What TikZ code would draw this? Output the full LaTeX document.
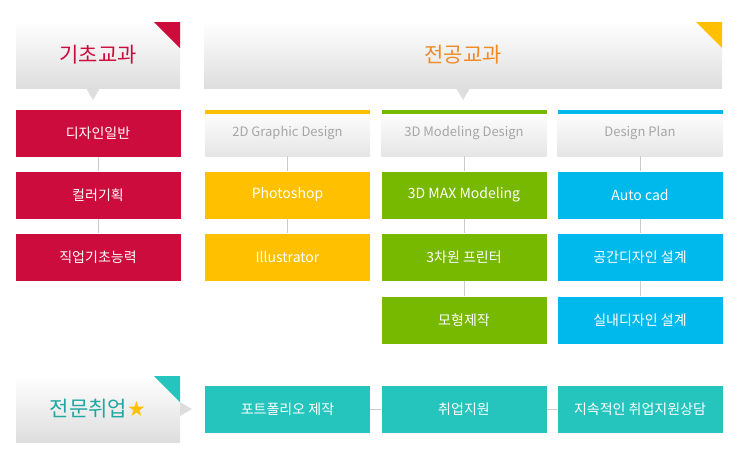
\documentclass[tikz,border=0pt]{standalone}
\usepackage{fontspec}
\setmainfont{Noto Sans CJK KR}
\newfontfamily\djv{DejaVu Sans}
\begin{document}
\begin{tikzpicture}[x=1pt,y=-1pt,
  hdr/.style={draw=none,top color=white,bottom color=black!12,font=\fontsize{21}{24}\selectfont},
  bx/.style={minimum width=165pt,minimum height=47pt,text=white,font=\fontsize{14}{16}\selectfont,inner sep=0},
  sub/.style={minimum width=165pt,minimum height=46pt,top color=white,bottom color=black!10,text=black!35,font=\fontsize{13}{15}\selectfont,inner sep=0},
  ln/.style={draw=black!20,line width=0.8pt}]
\definecolor{cred}{HTML}{CC0C3C}
\definecolor{cora}{HTML}{FFC000}
\definecolor{cgrn}{HTML}{77B800}
\definecolor{ccya}{HTML}{00B9EC}
\definecolor{ctea}{HTML}{25C4BC}
\definecolor{torg}{HTML}{F08A24}
\useasboundingbox (0,0) rectangle (750,464);
% headers
\shade[top color=white,bottom color=black!13] (16,22) rectangle (180,88);
\fill[black!13] (86,88) -- (93,100) -- (100,88) -- cycle;
\fill[cred] (154,22) -- (180,22) -- (180,48) -- cycle;
\node[text=cred,font=\fontsize{21}{24}\selectfont] (h1) at (98,55) {기초교과};
\shade[top color=white,bottom color=black!13] (204,22) rectangle (722,88);
\fill[black!13] (456,88) -- (463,100) -- (470,88) -- cycle;
\fill[cora] (696,22) -- (722,22) -- (722,48) -- cycle;
\node[text=torg,font=\fontsize{21}{24}\selectfont] (h2) at (463,55) {전공교과};
\shade[top color=white,bottom color=black!13] (16,376) rectangle (180,442);
\fill[black!13] (180,402) -- (192,409) -- (180,416) -- cycle;
\fill[ctea] (154,376) -- (180,376) -- (180,402) -- cycle;
\node[text=ctea!85!black,font=\fontsize{21}{24}\selectfont] (h3) at (98,409) {전문취업\textcolor{cora}{\djv ★}};
% left red column
\node[bx,fill=cred] (r1) at (98,133) {디자인일반};
\node[bx,fill=cred] (r2) at (98,195) {컬러기획};
\node[bx,fill=cred] (r3) at (98,257) {직업기초능력};
\draw[ln] (r1) -- (r2); \draw[ln] (r2) -- (r3);
% columns
\foreach \cx/\col/\nm/\t in {287.5/cora/a/2D Graphic Design,464/cgrn/b/3D Modeling Design,640/ccya/c/Design Plan / CAD}{
  \node[sub] (s\nm) at (\cx,133) {\t};
  \fill[\col] (\cx-82.5,110) rectangle (\cx+82.5,114);
}
\node[bx,fill=cora] (a1) at (287.5,195) {Photoshop};
\node[bx,fill=cora] (a2) at (287.5,257) {Illustrator};
\node[bx,fill=cgrn] (b1) at (464,195) {3D MAX Modeling};
\node[bx,fill=cgrn] (b2) at (464,257) {3차원 프린터};
\node[bx,fill=cgrn] (b3) at (464,320) {모형제작};
\node[bx,fill=ccya] (c1) at (640,195) {Auto cad};
\node[bx,fill=ccya] (c2) at (640,257) {공간디자인 설계};
\node[bx,fill=ccya] (c3) at (640,320) {실내디자인 설계};
\draw[ln] (sa) -- (a1); \draw[ln] (a1) -- (a2);
\draw[ln] (sb) -- (b1); \draw[ln] (b1) -- (b2); \draw[ln] (b2) -- (b3);
\draw[ln] (sc) -- (c1); \draw[ln] (c1) -- (c2); \draw[ln] (c2) -- (c3);
% bottom row
\node[bx,fill=ctea] (t1) at (287.5,409) {포트폴리오 제작};
\node[bx,fill=ctea] (t2) at (464,409) {취업지원};
\node[bx,fill=ctea] (t3) at (640,409) {지속적인 취업지원상담};
\draw[ln] (t1) -- (t2); \draw[ln] (t2) -- (t3);
\end{tikzpicture}
\end{document}
